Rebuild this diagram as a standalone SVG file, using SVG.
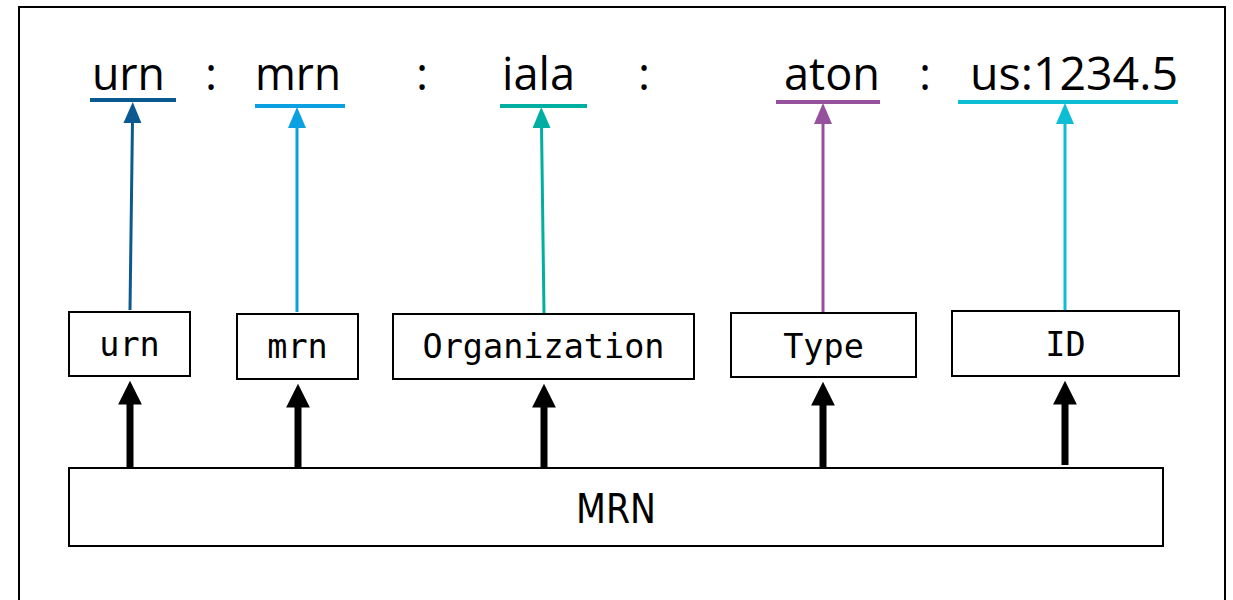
<svg xmlns="http://www.w3.org/2000/svg" width="1233" height="600" viewBox="0 0 1233 600">
<defs>
<style>
.top{font-family:"Open Sans","Liberation Sans",sans-serif;font-size:46px;fill:#000}
.box{fill:#fff;stroke:#000;stroke-width:2}
.mono{font-family:"DejaVu Sans Mono","Liberation Mono",monospace;font-size:33.5px;fill:#000;text-anchor:middle}
.big{font-family:"DejaVu Sans","Liberation Sans",sans-serif;font-size:40px;fill:#000;text-anchor:middle}
.ul{stroke-width:4;fill:none}
.thick{stroke:#000;stroke-width:7;fill:none}
</style>
<marker id="hb" markerWidth="4" markerHeight="3.4" refX="0.5" refY="1.7" orient="auto" markerUnits="strokeWidth"><path d="M0,0 L3.4,1.7 L0,3.4 Z" fill="#000"/></marker>
<marker id="h1" markerWidth="7" markerHeight="6" refX="1" refY="3" orient="auto" markerUnits="strokeWidth"><path d="M0,0 L7,3 L0,6 Z" fill="#0b5a8f"/></marker>
<marker id="h2" markerWidth="7" markerHeight="6" refX="1" refY="3" orient="auto" markerUnits="strokeWidth"><path d="M0,0 L7,3 L0,6 Z" fill="#0aa0e2"/></marker>
<marker id="h3" markerWidth="7" markerHeight="6" refX="1" refY="3" orient="auto" markerUnits="strokeWidth"><path d="M0,0 L7,3 L0,6 Z" fill="#00afa2"/></marker>
<marker id="h4" markerWidth="7" markerHeight="6" refX="1" refY="3" orient="auto" markerUnits="strokeWidth"><path d="M0,0 L7,3 L0,6 Z" fill="#96519d"/></marker>
<marker id="h5" markerWidth="7" markerHeight="6" refX="1" refY="3" orient="auto" markerUnits="strokeWidth"><path d="M0,0 L7,3 L0,6 Z" fill="#0cbdd3"/></marker>
</defs>
<rect x="0" y="0" width="1233" height="600" fill="#fff"/>
<rect x="19" y="7" width="1206" height="620" fill="none" stroke="#000" stroke-width="2"/>

<g id="label-line">
<text class="top" x="92" y="90" textLength="73" lengthAdjust="spacingAndGlyphs">urn</text>
<text class="top" x="205" y="90">:</text>
<text class="top" x="255" y="90" textLength="86" lengthAdjust="spacingAndGlyphs">mrn</text>
<text class="top" x="416" y="90">:</text>
<text class="top" x="502" y="90" textLength="73" lengthAdjust="spacingAndGlyphs">iala</text>
<text class="top" x="638" y="90">:</text>
<text class="top" x="784" y="90" textLength="96" lengthAdjust="spacingAndGlyphs">aton</text>
<text class="top" x="919" y="90">:</text>
<text class="top" x="970" y="90" textLength="208" lengthAdjust="spacingAndGlyphs">us:1234.5</text>
<line class="ul" x1="90" y1="100" x2="176" y2="100" stroke="#0b5a8f"/>
<line class="ul" x1="255" y1="106" x2="345" y2="106" stroke="#0aa0e2"/>
<line class="ul" x1="500" y1="106" x2="587" y2="106" stroke="#00afa2"/>
<line class="ul" x1="776" y1="102" x2="880" y2="102" stroke="#96519d"/>
<line class="ul" x1="958" y1="102" x2="1178" y2="102" stroke="#0cbdd3"/>
</g>

<g id="node-urn"><rect class="box" x="69" y="312" width="121" height="64"/><text class="mono" x="129.5" y="356">urn</text></g>
<g id="node-mrn"><rect class="box" x="237" y="314" width="121" height="65"/><text class="mono" x="297.5" y="358">mrn</text></g>
<g id="node-org"><rect class="box" x="393" y="314" width="301" height="65"/><text class="mono" x="543.5" y="358">Organization</text></g>
<g id="node-type"><rect class="box" x="731" y="313" width="185" height="64"/><text class="mono" x="823.5" y="358">Type</text></g>
<g id="node-id"><rect class="box" x="952" y="311" width="227" height="65"/><text class="mono" x="1065.5" y="356">ID</text></g>
<g id="node-MRN"><rect class="box" x="69" y="468" width="1094" height="78"/><text class="big" x="616" y="523" textLength="80" lengthAdjust="spacingAndGlyphs">MRN</text></g>

<g id="connectors">
<line x1="130" y1="310" x2="132.5" y2="120" stroke="#0b5a8f" stroke-width="3" marker-end="url(#h1)"/>
<line x1="297" y1="312" x2="297" y2="125" stroke="#0aa0e2" stroke-width="3" marker-end="url(#h2)"/>
<line x1="544" y1="313" x2="541.5" y2="125" stroke="#00afa2" stroke-width="3" marker-end="url(#h3)"/>
<line x1="823" y1="312" x2="823" y2="121" stroke="#96519d" stroke-width="3" marker-end="url(#h4)"/>
<line x1="1065" y1="310" x2="1065" y2="121" stroke="#0cbdd3" stroke-width="3" marker-end="url(#h5)"/>
<line class="thick" x1="130" y1="468" x2="130" y2="401" marker-end="url(#hb)"/>
<line class="thick" x1="298" y1="468" x2="298" y2="404" marker-end="url(#hb)"/>
<line class="thick" x1="544" y1="468" x2="544" y2="404" marker-end="url(#hb)"/>
<line class="thick" x1="823" y1="468" x2="823" y2="402" marker-end="url(#hb)"/>
<line class="thick" x1="1065" y1="465" x2="1065" y2="401" marker-end="url(#hb)"/>
</g>
</svg>
